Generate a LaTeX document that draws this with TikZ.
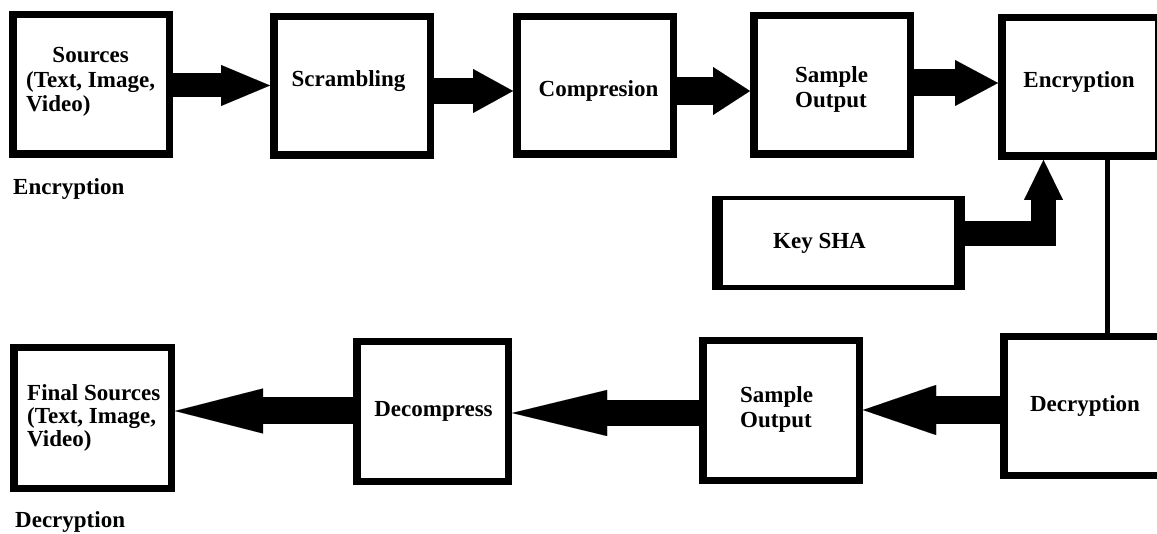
\documentclass[tikz,border=0pt]{standalone}
\usepackage{fontspec}
\setmainfont{Liberation Serif}
\usetikzlibrary{arrows.meta}
\begin{document}
\begin{tikzpicture}[x=1pt,y=-1pt,
  box/.style={draw=black, line width=7.5pt, inner sep=0pt, minimum width=156.5pt, minimum height=138.5pt},
  lbl/.style={font=\bfseries\fontsize{23}{24.5}\selectfont, inner sep=0pt, text=black},
  fat/.style n args={3}{draw=black, line width=#1, -{Triangle[length=#2, width=#3, line width=0.01pt]}}
]
\useasboundingbox (0,0) rectangle (1157,534);
\clip (0,0) rectangle (1157,534);
\fill[white] (0,0) rectangle (1157,534);

% boxes
\node[box, minimum height=139.5pt] (src) at (91,84.5) {};
\node[box] (scr) at (352,86) {};
\node[box, minimum height=137.5pt] (cmp) at (595,85.5) {};
\node[box] (so1) at (832,85) {};
\node[box] (enc) at (1080,87) {};
\node[box] (dec) at (1082,406) {};
\node[box, minimum height=139.5pt] (so2) at (781,410.5) {};
\node[box, minimum width=151.5pt, minimum height=139.5pt] (dcp) at (432.5,411.5) {};
\node[box, minimum width=157.5pt, minimum height=140.5pt] (fin) at (92.5,418) {};

% key box (uneven border)
\node[inner sep=0pt, outer sep=0pt, minimum width=253pt, minimum height=94pt] (key) at (838.5,243) {};
\fill[black] (key.north west) rectangle (key.south east);
\fill[white] ([shift={(11pt,-4pt)}]key.north west) rectangle ([shift={(-11pt,5pt)}]key.south east);

% connectors
\draw[fat={24pt}{49pt}{41pt}] ([yshift=-1pt]src.east) -- ([yshift=0.5pt]scr.west);
\draw[fat={26pt}{40pt}{44pt}] ([yshift=-5pt]scr.east) -- ([yshift=-5.5pt]cmp.west);
\draw[fat={28pt}{37pt}{48pt}] ([yshift=-5.5pt]cmp.east) -- ([yshift=-6pt]so1.west);
\draw[fat={27pt}{43pt}{46pt}] ([yshift=2pt]so1.east) -- ([yshift=4pt]enc.west);
\draw[fat={25pt}{40pt}{39pt}] ([yshift=9.5pt]key.east) -| ([xshift=-36.5pt]enc.south);
\draw[draw=black, line width=5pt] ([xshift=27pt]enc.south) -- ([xshift=25pt]dec.north);
\draw[fat={28pt}{73pt}{50pt}] ([yshift=-4pt]dec.west) -- ([yshift=0.5pt]so2.east);
\draw[fat={26pt}{95pt}{46pt}] ([yshift=-2.5pt]so2.west) -- ([yshift=-1.5pt]dcp.east);
\draw[fat={27pt}{88pt}{45pt}] ([yshift=0.5pt]dcp.west) -- ([yshift=7pt]fin.east);

% texts
\node[lbl, anchor=base west] (tsrc) at (26,63) {\begin{tabular}[t]{@{}l@{}}\multicolumn{1}{@{}c@{}}{Sources}\\(Text, Image,\\Video)\end{tabular}};
\node[lbl, anchor=base] (tscr) at (348.5,87) {Scrambling};
\node[lbl, anchor=base] (tcmp) at (598.5,97) {Compresion};
\node[lbl, anchor=base west] (tso1) at (795,83) {\begin{tabular}[t]{@{}l@{}}Sample\\Output\end{tabular}};
\node[lbl, anchor=base] (tenc) at (1079,88) {Encryption};
\node[lbl, anchor=base] (tkey) at (819.5,249) {Key SHA};
\node[lbl, anchor=base] (tdec) at (1085,412) {Decryption};
\node[lbl, anchor=base west] (tso2) at (740,403) {\begin{tabular}[t]{@{}l@{}}Sample\\Output\end{tabular}};
\node[lbl, anchor=base] (tdcp) at (433.5,417) {Decompress};
\node[lbl, anchor=base west, font=\bfseries\fontsize{23}{23}\selectfont] (tfin) at (27,401) {\begin{tabular}[t]{@{}l@{}}Final Sources\\(Text, Image,\\Video)\end{tabular}};
\node[lbl, anchor=base west] (lenc) at (13,195) {Encryption};
\node[lbl, anchor=base west] (ldec) at (15,527) {Decryption};
\end{tikzpicture}
\end{document}
